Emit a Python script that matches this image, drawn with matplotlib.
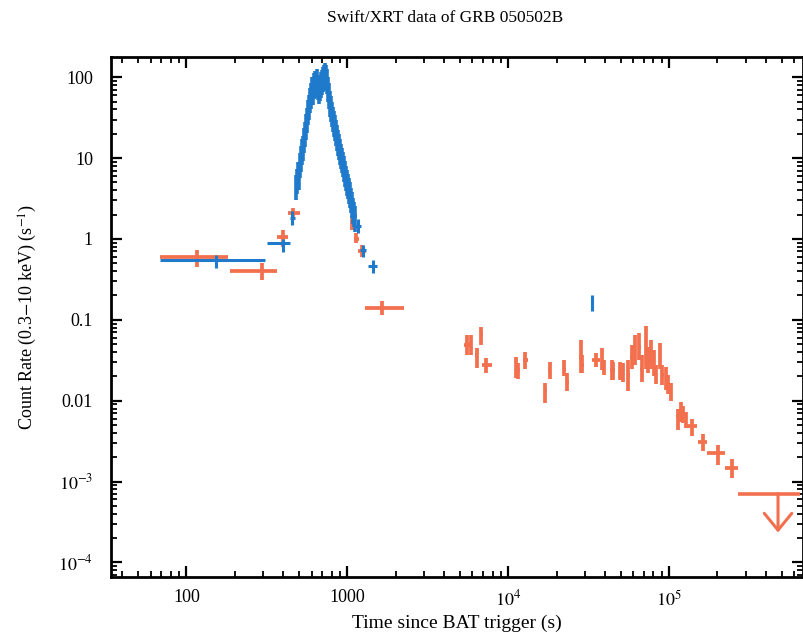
import matplotlib
matplotlib.use('Agg')
import matplotlib.pyplot as plt
import numpy as np
from matplotlib.ticker import FixedLocator, FixedFormatter, LogLocator, NullFormatter

plt.rcParams['font.family'] = ['Liberation Serif', 'DejaVu Serif']
plt.rcParams['mathtext.fontset'] = 'stix'

# ---------------- data ----------------
# Blue (WT) isolated points
wt_t   = [153, 400, 455, 1170, 1256, 1449, 33300]
wt_tlo = [69, 318, 440, 1122, 1200, 1350, 33000]
wt_thi = [310, 443, 470, 1220, 1310, 1530, 33600]
wt_r   = [0.55, 0.89, 1.82, 1.45, 0.73, 0.46, 0.165]
wt_rlo = [0.44, 0.69, 1.5, 1.2, 0.6, 0.38, 0.13]
wt_rhi = [0.63, 1.0, 2.2, 1.75, 0.85, 0.55, 0.20]

# Blue (WT) dense flare light curve
flare_t = [482, 489, 496, 503, 510, 518, 525, 533, 540, 548, 556, 564, 572, 580, 589,
           597, 606, 614, 623, 632, 641, 650, 660, 669, 679, 689, 699, 709, 719, 729,
           740, 750, 761, 772, 783, 795, 806, 818, 830, 841, 854, 866, 878, 891, 904,
           917, 930, 943, 957, 971, 985, 999, 1013, 1028, 1043, 1058, 1073, 1088, 1104, 1120]
flare_r = [4.6, 5.5, 6.7, 6.2, 8.7, 10.5, 12.6, 14.0, 17.7, 21, 25.7, 31, 39, 45, 55,
           63, 74, 70, 83, 90, 86, 95, 80, 72, 78, 85, 92, 100, 106, 112,
           105, 95, 75, 62, 50, 43, 37, 32, 28, 25, 22, 19, 16.5, 14.5, 12.7,
           11.2, 10.0, 8.9, 7.8, 6.8, 6.0, 5.3, 4.7, 4.2, 3.7, 3.2, 2.8, 2.4, 2.15, 1.9]
flare_e = [1.6, 1.9, 2.3, 2.2, 3.0, 3.7, 4.4, 4.9, 6.2, 7.3, 9.0, 10.8, 13.6, 15.7, 19,
           22, 26, 24, 29, 31, 30, 33, 28, 25, 27, 30, 32, 35, 37, 39,
           37, 33, 26, 22, 17.5, 15, 13, 11.2, 9.8, 8.8, 7.7, 6.7, 5.8, 5.1, 4.4,
           3.9, 3.5, 3.1, 2.7, 2.4, 2.1, 1.9, 1.6, 1.5, 1.3, 1.1, 1.0, 0.85, 0.75, 0.67]

# Red (PC) points
pc_t   = [117, 297, 400, 463, 1074, 1137, 1240, 1650,
          5540, 5860, 6380, 6800, 7300, 11220, 11590, 12760, 16980, 18070, 22290, 23360,
          28260, 28950, 35060, 38540, 39460, 44040, 45070, 49610, 51540, 55850, 58610,
          61470, 65410, 67640, 71940, 74410, 76960, 80720, 83050, 87950, 90970, 95810,
          99100, 102400, 114200, 118100, 122700, 127600, 139700, 161900, 202300, 245000]
pc_tlo = [69, 188, 367, 430, 1045, 1100, 1170, 1295,
          5300, 5750, 6230, 6650, 6860, 10950, 11300, 12300, 16600, 17650, 21800, 22850,
          27700, 28400, 33110, 37800, 38800, 43200, 44300, 48700, 50600, 54800, 57500,
          60300, 64200, 66400, 70600, 73000, 75500, 79200, 81500, 86300, 89300, 94000,
          97200, 100500, 111000, 115800, 120300, 125100, 128800, 152200, 171400, 222700]
pc_thi = [182, 367, 430, 511, 1105, 1190, 1310, 2260,
          5800, 5980, 6540, 6960, 7920, 11500, 11880, 13370, 17400, 18500, 22800, 23900,
          28850, 29500, 37000, 39300, 40100, 44900, 45900, 50500, 52500, 56900, 59700,
          62600, 66600, 68900, 73300, 75800, 78400, 82200, 84600, 89600, 92700, 97600,
          101000, 104300, 117500, 120400, 125100, 130100, 148600, 171400, 222700, 269400]
pc_r   = [0.60, 0.40, 1.06, 2.1, 1.6, 1.0, 0.72, 0.14,
          0.049, 0.050, 0.0368, 0.065, 0.028, 0.0277, 0.024, 0.032, 0.013, 0.024, 0.025, 0.0172,
          0.035, 0.0277, 0.032, 0.030, 0.026, 0.024, 0.024, 0.024, 0.023, 0.021, 0.035,
          0.0425, 0.0467, 0.025, 0.0467, 0.032, 0.0386, 0.029, 0.021, 0.037, 0.021, 0.020,
          0.016, 0.0136, 0.0064, 0.0073, 0.0070, 0.0058, 0.0048, 0.0031, 0.00224, 0.00147]
pc_rlo = [0.45, 0.31, 0.80, 1.7, 1.3, 0.89, 0.60, 0.115,
          0.0368, 0.037, 0.0252, 0.049, 0.022, 0.019, 0.0185, 0.025, 0.0093, 0.0185, 0.020, 0.013,
          0.022, 0.022, 0.026, 0.024, 0.021, 0.018, 0.018, 0.018, 0.0172, 0.013, 0.025,
          0.028, 0.032, 0.017, 0.025, 0.022, 0.025, 0.020, 0.016, 0.025, 0.0155, 0.0136,
          0.012, 0.0098, 0.0044, 0.0055, 0.0053, 0.0046, 0.0037, 0.0024, 0.0016, 0.0011]
pc_rhi = [0.73, 0.50, 1.3, 2.4, 1.9, 1.2, 0.85, 0.17,
          0.065, 0.065, 0.0445, 0.0824, 0.0335, 0.0351, 0.029, 0.040, 0.0164, 0.030, 0.032, 0.022,
          0.056, 0.037, 0.039, 0.0445, 0.032, 0.032, 0.030, 0.030, 0.029, 0.032, 0.049,
          0.065, 0.068, 0.037, 0.083, 0.0467, 0.0565, 0.0425, 0.028, 0.051, 0.028, 0.026,
          0.021, 0.0164, 0.0079, 0.0095, 0.0085, 0.0073, 0.0060, 0.0039, 0.0028, 0.0019]

# Red upper limit
ul_t, ul_tlo, ul_thi = 475700, 268500, 651600
ul_r, ul_tip = 7.1e-4, 2.34e-4

# Ticks
x_ticks = [100, 1000, 1e4, 1e5]
x_labels = ['100', '1000', '$10^4$', '$10^5$']
y_ticks = [1e-4, 1e-3, 0.01, 0.1, 1, 10, 100]
y_labels = ['$10^{-4}$', '$10^{-3}$', '0.01', '0.1', '1', '10', '100']

blue = '#1f7acb'
red = '#f3704f'

# ---------------- figure ----------------
fig = plt.figure(figsize=(8.04, 6.37), dpi=100)
ax = fig.add_axes([111/804, 1-577/637, (803-111)/804, (577-57)/637])
ax.set_xscale('log')
ax.set_yscale('log')

def err(v, lo, hi):
    v, lo, hi = np.asarray(v, float), np.asarray(lo, float), np.asarray(hi, float)
    return [v - lo, hi - v]

ax.errorbar(pc_t, pc_r, xerr=err(pc_t, pc_tlo, pc_thi), yerr=err(pc_r, pc_rlo, pc_rhi),
            fmt='none', ecolor=red, elinewidth=2.7, capsize=0)
ax.hlines(ul_r, ul_tlo, ul_thi, color=red, lw=2.6)
ax.annotate('', xy=(ul_t, ul_tip), xytext=(ul_t, ul_r),
            arrowprops=dict(arrowstyle='->,head_width=0.45,head_length=0.55',
                            color=red, lw=2.2, mutation_scale=22,
                            shrinkA=0, shrinkB=0))

ax.errorbar(wt_t, wt_r, xerr=err(wt_t, wt_tlo, wt_thi), yerr=err(wt_r, wt_rlo, wt_rhi),
            fmt='none', ecolor=blue, elinewidth=2.2, capsize=0)
fe = np.asarray(flare_e)
ft = np.asarray(flare_t, float)
ax.errorbar(flare_t, flare_r, xerr=[ft*0.02, ft*0.02], yerr=[fe, fe],
            fmt='none', ecolor=blue, elinewidth=2.6, capsize=0)

ax.set_xlim(34, 6.8e5)
ax.set_ylim(6.6e-5, 178)

ax.xaxis.set_major_locator(FixedLocator(x_ticks))
ax.xaxis.set_major_formatter(FixedFormatter(x_labels))
ax.xaxis.set_minor_locator(LogLocator(base=10, subs=np.arange(2, 10), numticks=20))
ax.xaxis.set_minor_formatter(NullFormatter())
ax.yaxis.set_major_locator(FixedLocator(y_ticks))
ax.yaxis.set_major_formatter(FixedFormatter(y_labels))
ax.yaxis.set_minor_locator(LogLocator(base=10, subs=np.arange(2, 10), numticks=20))
ax.yaxis.set_minor_formatter(NullFormatter())

ax.tick_params(which='both', direction='in', top=True, right=True, labelsize=13)
ax.tick_params(which='major', length=8, width=1.6)
ax.tick_params(which='minor', length=4, width=1.3)
ax.tick_params(axis='y', pad=13)
ax.tick_params(axis='x', pad=9)
for s in ax.spines.values():
    s.set_linewidth(2.0)

ax.set_xlabel('Time since BAT trigger (s)', fontsize=14, labelpad=4)
ax.set_ylabel('Count Rate (0.3$-$10 keV) (s$^{-1}$)', fontsize=13, labelpad=14)
fig.text(445/804, 1-18/637, 'Swift/XRT data of GRB 050502B', ha='center', va='center', fontsize=12.5)

fig.savefig('out.png', dpi=100)
